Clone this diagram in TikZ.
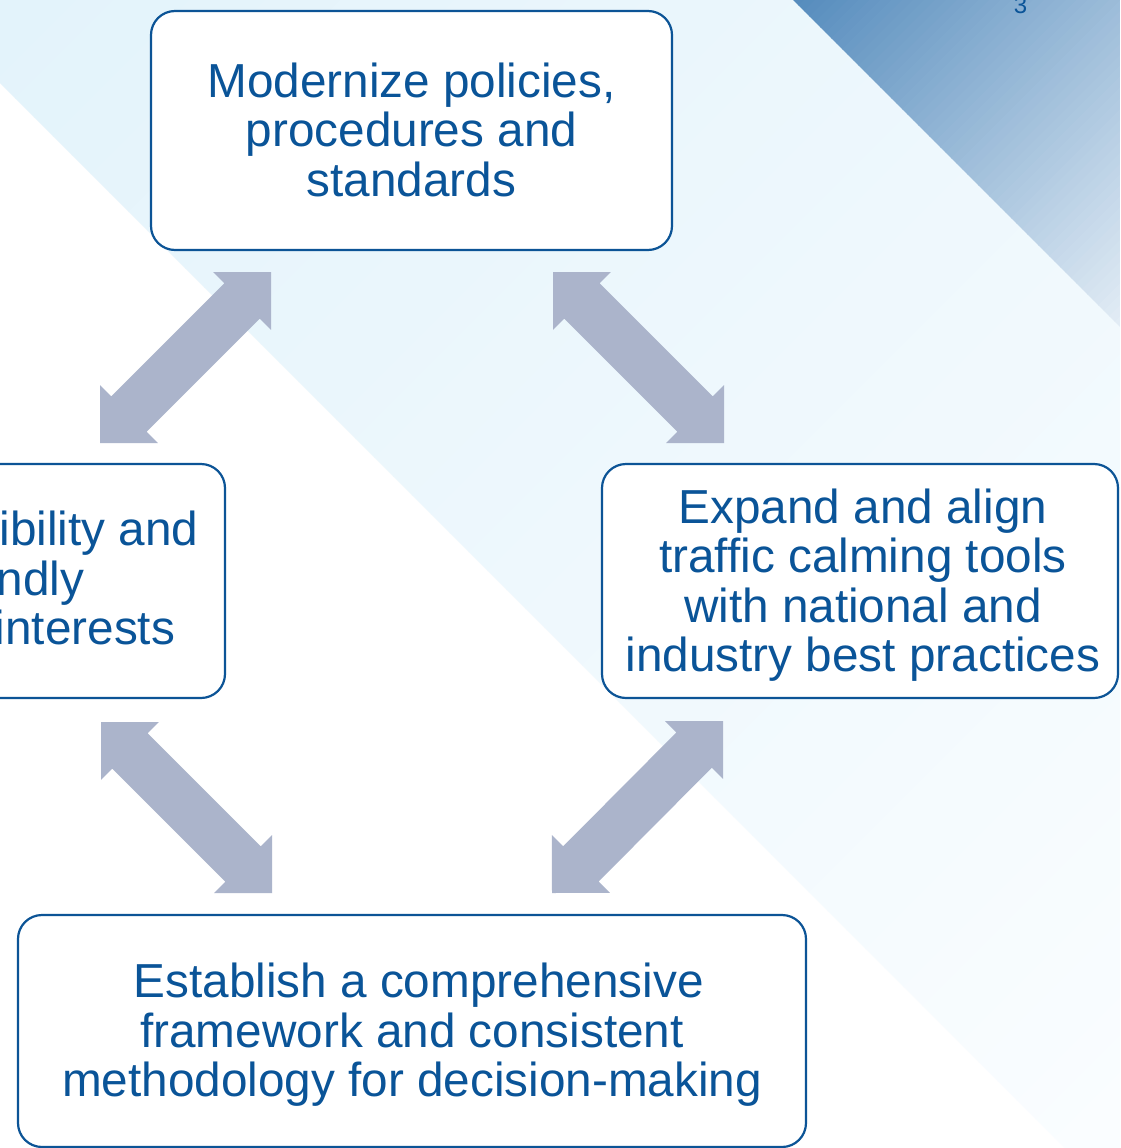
\documentclass[tikz,border=0pt]{standalone}
\usepackage{fontspec}
\setmainfont{Liberation Sans}
\usetikzlibrary{calc}
\definecolor{boxblue}{RGB}{12,84,150}
\definecolor{txtblue}{RGB}{10,84,152}
\definecolor{arrowfill}{RGB}{171,180,203}
\definecolor{lightA}{RGB}{227,243,251}
\definecolor{lightB}{RGB}{250,253,255}
\definecolor{darkA}{RGB}{86,140,189}
\definecolor{darkB}{RGB}{226,236,245}
\newcommand\boxtext[3][0pt]{\raisebox{0pt}[41.2pt][\dimexpr 49.5pt*#2-41.2pt\relax]{\begin{tabular}[t]{@{\hspace*{#1}}c@{}}#3\end{tabular}}}
\newcommand\dblarrow[2]{%
  \fill[arrowshape] (#1)
   -- ($(#1)!41pt!(#2)!41pt!90:(#2)$) -- ($(#1)!41pt!(#2)!25pt!90:(#2)$)
   -- ($(#2)!41pt!(#1)!25pt!-90:(#1)$) -- ($(#2)!41pt!(#1)!41pt!-90:(#1)$)
   -- (#2)
   -- ($(#2)!41pt!(#1)!41pt!90:(#1)$) -- ($(#2)!41pt!(#1)!25pt!90:(#1)$)
   -- ($(#1)!41pt!(#2)!25pt!-90:(#2)$) -- ($(#1)!41pt!(#2)!41pt!-90:(#2)$)
   -- cycle;}
\tikzset{
  box/.style={draw=boxblue, line width=2.2pt, fill=white, rounded corners=24pt,
    inner sep=0pt, text=txtblue, font=\fontsize{47.7}{49.5}\selectfont},
  arrowshape/.style={fill=arrowfill},
}
\begin{document}
\begin{tikzpicture}[x=1pt,y=-1pt]
\useasboundingbox (0,0) rectangle (1120,1148);
\clip (0,0) rectangle (1120,1148);
\fill[white] (0,0) rectangle (1120,1148);
% light diagonal region
\begin{scope}
\clip (0,0) -- (1120,0) -- (1120,1148) -- (1065,1148) -- (0,83) -- cycle;
\foreach \i in {0,...,59}{
  \pgfmathsetmacro\a{\i*37.8}
  \pgfmathsetmacro\b{\a+38.8}
  \pgfmathsetmacro\p{100*\i/59}
  \fill[lightB!\p!lightA] (\a+2000,-2000) -- (\b+2000,-2000) -- (\b-2000,2000) -- (\a-2000,2000) -- cycle;
}
\end{scope}
% dark corner triangle
\begin{scope}
\clip (793,0) -- (1120,0) -- (1120,327) -- cycle;
\foreach \i in {0,...,59}{
  \pgfmathsetmacro\a{793+\i*10.9}
  \pgfmathsetmacro\b{\a+11.9}
  \pgfmathsetmacro\p{100*\i/59}
  \fill[darkB!\p!darkA] (\a+2000,-2000) -- (\b+2000,-2000) -- (\b-2000,2000) -- (\a-2000,2000) -- cycle;
}
\end{scope}
\node[text=txtblue, font=\fontsize{24}{28}\selectfont, anchor=base, inner sep=0pt] (pagenum) at (1020.5,14) {3};
% boxes
\node[box, minimum width=521pt, minimum height=239pt] (policies) at (411.5,130.5)
  {\boxtext{3}{Modernize policies,\\procedures and\\standards}};
\node[box, minimum width=516pt, minimum height=234pt] (tools) at (860,581)
  {\boxtext[6pt]{4}{Expand and align\\traffic calming tools\\with national and\\industry best practices}};
\node[box, minimum width=516pt, minimum height=234pt] (flex) at (-33,581) {};
\node[text=txtblue, font=\fontsize{47.7}{49.5}\selectfont, inner sep=0pt, anchor=base east] (flextext)
  at ($(flex.east)+(-27.5,-35.5)$)
  {\begin{tabular}[t]{@{}r@{}}ibility and\\ndly\makebox[114.3pt]{}\\interests\makebox[23.3pt]{}\end{tabular}};
\node[box, minimum width=788pt, minimum height=232pt] (framework) at (412,1031)
  {\boxtext{3}{\hspace*{13.3pt}Establish a comprehensive\\framework and consistent\\methodology for decision-making}};
% arrows
\coordinate (a1p) at (271,272); \coordinate (a1f) at (100,443);
\coordinate (a2p) at (553,272); \coordinate (a2t) at (724,443);
\coordinate (a3f) at (101,722); \coordinate (a3b) at (272,893);
\coordinate (a4t) at (723,721); \coordinate (a4b) at (552,893);
\dblarrow{a1p}{a1f}
\dblarrow{a2p}{a2t}
\dblarrow{a3f}{a3b}
\dblarrow{a4t}{a4b}
\end{tikzpicture}
\end{document}
